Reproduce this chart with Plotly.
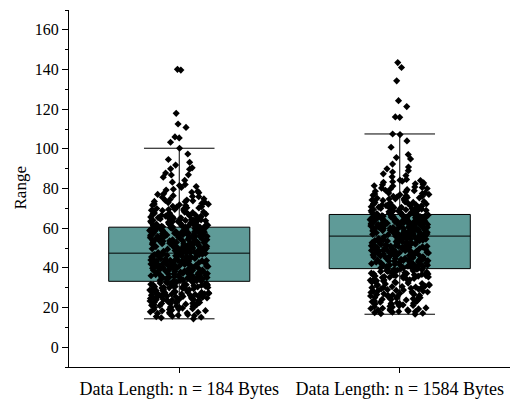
import plotly.graph_objects as go

categories = ["Data Length: n = 184 Bytes", "Data Length: n = 1584 Bytes"]

# box statistics
q1 = [33.2, 39.6]
median = [47.4, 56.0]
q3 = [60.5, 66.9]
lowerfence = [14.3, 16.6]
upperfence = [100.3, 107.5]

# individual samples (estimated from the scatter)
range_184 = [
    14.3, 15.6, 17.2, 16.4, 18.9, 19.7, 15.1, 17.8, 18.3, 19.2, 16.9, 19.9, 18.6, 17.5, 15.9,
    21.4, 20.3, 23.7, 22.1, 24.6, 20.9, 22.8, 24.1, 21.7, 23.2, 20.6, 24.9, 22.4, 21.1, 23.9, 24.4, 22.6, 20.1, 23.4, 21.9,
    25.4, 27.8, 26.2, 29.3, 28.1, 25.9, 27.1, 29.8, 26.7, 28.6, 25.2, 27.5, 29.1, 26.4, 28.9, 25.7, 27.3, 29.6, 26.9, 28.3, 25.1, 27.9, 26.1,
    30.4, 32.1, 31.3, 30.9, 32.8, 31.7, 30.2, 33.0, 31.1, 32.4, 30.7, 31.9, 32.6, 30.1, 31.5, 32.9, 30.6,
    33.5, 36.2, 34.8, 38.1, 39.4, 35.3, 37.6, 33.9, 36.8, 38.7, 34.2, 39.8, 35.9, 37.1, 33.4, 36.5, 38.4, 34.6, 39.1, 35.6,
    37.9, 34.1, 36.9, 38.9, 35.1, 37.3, 39.6, 33.7, 36.1, 38.2, 34.9, 37.7, 35.4, 39.2, 36.6,
    40.3, 43.7, 41.8, 45.2, 46.9, 42.4, 44.6, 40.9, 47.1, 43.1, 41.2, 45.8, 42.9, 46.3, 44.1, 40.6, 47.3, 43.4, 41.6, 45.5,
    42.2, 46.6, 44.9, 40.1, 43.9, 41.4, 45.1, 42.7, 46.1, 44.3, 40.8, 47.0, 43.2, 41.9, 45.7, 42.5, 46.8, 44.7, 41.1, 43.6,
    47.6, 50.3, 48.9, 52.7, 54.1, 49.4, 51.8, 53.5, 48.2, 50.9, 54.7, 49.8, 52.2, 47.9, 53.1, 51.3, 48.6, 54.4, 50.1, 52.9,
    49.2, 51.6, 53.8, 48.1, 50.6, 54.9, 49.6, 52.4, 47.8, 53.3, 51.1, 48.4, 54.2, 50.4, 52.1, 49.1, 51.9, 53.6, 48.8, 50.8,
    55.3, 57.8, 56.4, 59.6, 58.2, 55.9, 60.1, 57.1, 56.8, 59.2, 55.6, 58.7, 57.4, 60.4, 56.1, 59.9, 58.4, 55.1,
    57.6, 59.4, 56.6, 58.9, 55.8, 60.2, 57.2, 56.3, 59.1, 58.1, 55.4, 57.9, 59.7, 56.9, 58.6, 55.7, 60.3,
    60.8, 63.4, 61.7, 64.6, 62.3, 60.6, 63.9, 61.2, 64.2, 62.8, 61.5, 64.9, 63.1, 60.9, 62.5, 64.4, 61.9, 63.7, 62.1, 60.7,
    64.7, 63.3, 61.4, 62.9, 64.1,
    65.4, 67.8, 66.3, 69.2, 68.1, 65.9, 67.2, 69.7, 66.8, 68.6, 65.2, 67.5, 69.4, 66.1, 68.9, 65.7, 67.1, 68.3, 66.6, 69.9,
    70.6, 72.9, 71.4, 74.2, 73.5, 70.2, 72.1, 74.8, 71.8, 73.1, 70.9, 74.5,
    75.6, 77.3, 78.1, 76.4, 79.2, 77.9, 75.9,
    81.0, 81.5, 83.2, 85.7, 86.9, 86.8, 89.9, 89.7,
    90.4, 93.2, 94.6, 97.4, 100.3, 91.8,
    103.3, 105.5, 106.0, 110.8, 112.5, 117.9, 139.7, 140.1,
    14.8, 16.1, 17.6, 18.4, 19.4, 15.4, 17.0, 19.0,
    20.7, 22.5, 24.2, 21.2, 23.8, 20.0, 22.9, 24.8, 21.6, 23.3, 22.0, 24.0,
    25.6, 28.4, 26.6, 29.5, 27.4, 25.3, 28.8, 26.0, 29.9, 27.6, 25.8, 28.2, 26.8, 29.0, 27.0,
    30.3, 31.8, 32.3, 30.8, 33.1, 31.4, 32.0, 30.5, 32.7, 31.0,
    33.6, 35.7, 38.6, 36.3, 39.9, 34.4, 37.4, 35.0, 38.0, 36.7, 39.3, 33.8, 37.0, 34.7, 38.5, 36.0, 39.7, 35.2, 37.8, 34.3,
    38.8, 36.4,
    40.4, 44.2, 42.1, 46.4, 43.0, 41.3, 45.4, 40.7, 47.2, 43.5, 42.6, 45.9, 41.7, 44.5, 46.7, 40.2, 43.8, 42.3, 45.0, 41.0,
    46.2, 44.0, 42.8, 47.4, 43.3,
    47.7, 51.2, 49.0, 53.9, 52.0, 48.3, 50.7, 54.6, 49.5, 52.6, 48.0, 51.4, 53.4, 50.2, 54.0, 49.9, 52.5, 48.7, 51.0, 53.0,
    50.0, 54.8, 49.3, 51.7, 52.8,
    55.2, 58.0, 56.7, 59.8, 57.0, 55.5, 58.5, 60.0, 56.2, 59.0, 57.7, 55.0, 58.8, 56.5, 60.5, 57.3, 59.5, 55.9, 58.3, 56.0,
    59.3, 57.5,
    60.9, 63.0, 61.6, 64.3, 62.4, 61.0, 63.6, 64.8, 62.0, 63.8, 61.3, 64.0, 62.7, 60.6, 63.5, 61.8,
    65.3, 67.4, 66.5, 68.8, 65.8, 69.0, 67.0, 68.2, 66.0, 69.5, 67.6, 65.6,
    70.3, 71.6, 73.8, 72.5, 74.0, 71.0, 73.3, 72.2,
    76.0, 78.6, 77.0, 79.6,
    82.0, 84.1, 80.5, 87.8,
]

range_1584 = [
    16.6, 18.2, 17.4, 19.5, 18.8, 17.9, 19.1, 16.9, 18.5, 19.8,
    20.4, 22.7, 21.3, 24.1, 23.5, 20.9, 22.2, 24.7, 21.8, 23.1, 20.2, 24.4, 22.9, 21.6,
    25.5, 27.9, 26.3, 29.2, 28.4, 25.8, 27.1, 29.7, 26.7, 28.8, 25.2, 27.6, 29.4, 26.1, 28.1, 26.9,
    30.3, 32.8, 31.6, 34.2, 33.5, 30.8, 32.1, 34.7, 31.2, 33.9, 30.5, 32.5, 34.4, 31.9, 33.1, 30.1,
    35.4, 37.8, 36.3, 39.2, 38.4, 35.9, 37.1, 39.5, 36.7, 38.8, 35.2, 37.5, 39.0, 36.1, 38.1, 35.7, 37.3, 38.6, 36.5, 39.3,
    39.9, 43.6, 41.4, 46.2, 44.8, 40.7, 42.9, 47.5, 41.9, 45.3, 40.2, 43.1, 46.8, 42.3, 44.4, 47.1, 40.5, 45.9, 41.1,
    43.9, 46.5, 42.6, 44.1, 47.8, 40.9, 45.6, 41.7, 43.3, 46.1, 42.1, 44.7, 47.3, 40.4, 45.1, 41.5, 43.8, 46.9, 42.8,
    48.3, 51.7, 49.6, 54.2, 53.1, 48.9, 50.8, 55.6, 52.4, 49.2, 54.8, 51.2, 53.7, 48.6, 50.3, 55.1, 52.9, 49.8, 54.5, 51.5,
    53.4, 48.1, 50.6, 55.8, 52.1, 49.4, 54.1, 51.9, 53.2, 48.8, 50.1, 55.4, 52.6, 49.9, 54.6, 51.1, 53.9, 48.4, 50.5, 55.3,
    56.2, 58.7, 57.3, 60.9, 59.4, 56.8, 61.6, 58.1, 57.9, 60.3, 56.5, 59.8, 61.2, 57.6, 58.4, 60.6, 56.1, 59.1, 61.8, 57.2,
    58.9, 60.1, 56.7, 59.6, 61.4, 57.8, 58.2, 60.7, 56.4, 59.3, 61.1, 57.5, 58.6, 60.4, 56.9, 59.9, 61.9, 57.1, 58.5, 60.2,
    62.3, 64.8, 63.4, 66.1, 65.2, 62.9, 64.1, 66.7, 63.8, 65.6, 62.1, 64.5, 66.4, 63.1, 65.9, 62.6, 64.2, 66.8,
    63.6, 65.3, 62.4, 64.9, 66.2, 63.3, 65.7, 62.8, 64.4, 66.5, 63.9, 65.1, 62.2, 64.7, 66.3, 63.5, 65.5, 62.7,
    67.3, 69.8, 68.4, 71.2, 70.5, 67.8, 69.1, 71.7, 68.9, 70.2, 67.1, 69.5, 71.4, 68.1, 70.8, 67.6, 69.3, 71.9, 68.6, 70.1,
    67.4, 69.9, 71.1, 68.3, 70.6,
    72.4, 75.8, 73.6, 77.2, 76.1, 72.9, 74.7, 77.8, 73.2, 75.3, 72.1, 76.6, 74.2, 77.5, 73.9, 75.1, 72.7, 76.9, 74.5, 73.4,
    78.6, 81.9, 80.2, 83.7, 82.4, 79.1, 84.6, 80.8, 83.1, 78.9, 81.4, 84.2, 79.7, 82.8,
    85.9, 87.4, 89.0, 89.9, 88.3, 86.5,
    90.8, 92.3, 94.9, 95.6, 97.1, 100.8, 104.0, 107.2, 107.5,
    115.9, 116.1, 121.3, 124.3, 134.3, 141.0, 143.5,
    17.1, 18.0, 19.3, 17.6, 18.7, 19.6,
    20.6, 22.4, 24.0, 21.0, 23.3, 24.9, 21.9, 23.8, 22.0,
    25.4, 27.3, 29.0, 26.5, 28.6, 25.0, 27.8, 29.9, 26.0, 28.2,
    30.6, 32.3, 34.0, 31.4, 33.7, 30.0, 32.9, 34.9, 31.0, 33.3,
    35.1, 37.0, 38.9, 36.0, 38.2, 35.6, 37.7, 39.4, 36.4, 38.5, 35.8, 37.4, 36.9,
    40.0, 43.0, 45.5, 41.2, 44.0, 46.6, 42.0, 47.0, 40.6, 43.5, 45.8, 41.8, 44.6, 47.6, 42.5, 46.0, 40.8, 43.7, 45.0, 41.3,
    44.3, 46.4, 42.4, 47.9,
    48.2, 51.0, 53.5, 49.0, 52.2, 54.7, 50.0, 55.0, 48.5, 51.3, 53.8, 49.5, 52.7, 55.5, 50.4, 54.0, 48.7, 51.6, 53.0, 49.7,
    52.3, 54.4, 50.9, 55.9, 51.8, 53.6,
    56.0, 58.0, 60.0, 57.0, 59.0, 61.0, 56.6, 58.3, 60.5, 57.4, 59.5, 61.5, 56.3, 58.8, 60.8, 57.7, 59.2, 61.3, 56.9, 58.6,
    60.3, 57.9, 59.7, 61.7, 58.1, 60.6,
    62.5, 64.0, 65.8, 63.0, 64.6, 66.6, 62.0, 63.7, 65.4, 66.0, 62.9, 64.3, 65.0, 63.2, 66.9, 62.6, 64.9, 65.6, 63.4, 64.1,
    66.4, 62.4, 65.2,
    67.0, 68.7, 70.3, 71.5, 67.9, 69.4, 70.9, 68.0, 69.6, 71.0, 67.5, 68.8, 70.0, 71.8, 69.0, 70.7,
    72.5, 74.0, 76.3, 77.0, 73.0, 75.5, 72.2, 74.8, 76.0, 73.7, 75.0, 77.7,
    78.3, 80.5, 82.0, 84.0, 79.4, 81.2, 83.4, 80.0,
]

y_ticks = [0, 20, 40, 60, 80, 100, 120, 140, 160]

BOX_FILL = "#5f9b98"
FONT = "Liberation Serif, Times New Roman, serif"

fig = go.Figure()

fig.add_trace(go.Box(
    x=categories,
    q1=q1, median=median, q3=q3,
    lowerfence=lowerfence, upperfence=upperfence,
    fillcolor=BOX_FILL,
    line=dict(color="black", width=1),
    whiskerwidth=0.5,
    width=0.64,
    boxpoints=False,
    showlegend=False,
))

for cat, vals in zip(categories, [range_184, range_1584]):
    fig.add_trace(go.Box(
        x=[cat] * len(vals),
        y=vals,
        boxpoints="all",
        jitter=0.42,
        pointpos=0,
        width=0.64,
        fillcolor="rgba(0,0,0,0)",
        line=dict(color="rgba(0,0,0,0)", width=0),
        marker=dict(symbol="diamond", color="black", size=5.5, line=dict(width=0)),
        showlegend=False,
    ))

fig.update_layout(
    width=511, height=401,
    margin=dict(l=69, r=1, t=10, b=34),
    plot_bgcolor="white",
    paper_bgcolor="white",
    boxmode="overlay",
    font=dict(family=FONT, color="black"),
    annotations=[dict(
        text="Range", textangle=-90,
        xref="paper", yref="paper", x=0, y=0.5,
        xanchor="center", yanchor="middle", xshift=-49,
        showarrow=False, font=dict(family=FONT, size=17, color="black"),
    )],
)

fig.update_xaxes(
    type="category",
    range=[-0.5, 1.5],
    showline=True, linecolor="black", linewidth=1,
    ticks="outside", ticklen=5, tickcolor="black",
    tickfont=dict(family=FONT, size=18, color="black"),
    showgrid=False, zeroline=False,
)

fig.update_yaxes(
    range=[-10, 170],
    tickvals=y_ticks,
    showline=True, linecolor="black", linewidth=1,
    ticks="outside", ticklen=6, tickcolor="black",
    minor=dict(dtick=10, ticks="outside", ticklen=3, tickcolor="black"),
    tickfont=dict(family=FONT, size=16, color="black"),
    showgrid=False, zeroline=False,
)

fig.write_html("out.html")
